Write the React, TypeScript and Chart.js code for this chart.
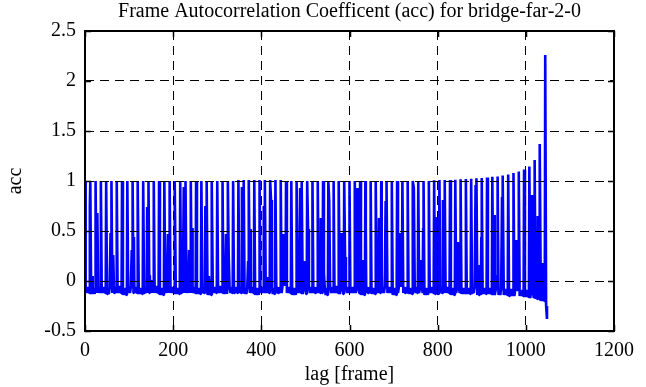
import React, { useEffect, useRef } from "react";
import { Chart, registerables } from "chart.js";

Chart.register(...registerables);

const titleText = "Frame Autocorrelation Coefficent (acc) for bridge-far-2-0";
const xLabel = "lag [frame]";
const yLabel = "acc";

const xTicks = [0, 200, 400, 600, 800, 1000, 1200];
const yTicks = [-0.5, 0, 0.5, 1, 1.5, 2, 2.5];

// spacing (frames) between the main autocorrelation peaks
const period = 12;

// main peak height at lag = k * period
const peaks = [
  1.0, 1.0, 1.0, 1.0, 1.0, 1.0, 1.0, 1.0, 1.0, 1.0,
  1.0, 1.0, 1.0, 1.0, 1.0, 1.0, 1.0, 1.0, 1.0, 1.0,
  1.0, 1.0, 1.0, 1.0, 1.0, 1.0, 1.0, 1.0, 1.0, 1.01,
  1.01, 1.01, 1.01, 1.01, 1.01, 1.01, 1.01, 1.01, 1.0, 1.0,
  1.0, 1.0, 1.0, 1.0, 1.0, 1.0, 1.0, 1.0, 1.0, 1.0,
  1.0, 1.0, 1.0, 1.0, 1.0, 1.0, 1.0, 1.0, 1.0, 1.0,
  1.0, 1.0, 1.0, 1.0, 1.0, 1.0, 1.007, 1.01, 1.01, 1.01,
  1.013, 1.017, 1.02, 1.023, 1.027, 1.03, 1.035, 1.043, 1.045, 1.055,
  1.065, 1.08, 1.095, 1.115, 1.145, 1.21, 1.37, 2.26,
];

// lowest baseline level in each gap after a peak
const troughs = [
  -0.12, -0.13, -0.12, -0.12, -0.13, -0.12, -0.12, -0.14, -0.12, -0.12,
  -0.13, -0.12, -0.12, -0.12, -0.14, -0.12, -0.12, -0.13, -0.12, -0.12,
  -0.12, -0.13, -0.12, -0.14, -0.12, -0.12, -0.13, -0.12, -0.12, -0.12,
  -0.13, -0.12, -0.14, -0.12, -0.12, -0.13, -0.12, -0.12, -0.12, -0.14,
  -0.12, -0.13, -0.12, -0.12, -0.12, -0.14, -0.12, -0.12, -0.13, -0.12,
  -0.12, -0.12, -0.14, -0.12, -0.13, -0.12, -0.12, -0.12, -0.14, -0.12,
  -0.12, -0.13, -0.12, -0.12, -0.14, -0.12, -0.13, -0.12, -0.12, -0.14,
  -0.12, -0.13, -0.13, -0.12, -0.14, -0.13, -0.13, -0.14, -0.14, -0.14,
  -0.15, -0.15, -0.15, -0.16, -0.17, -0.18, -0.2, -0.22,
];

// upper baseline level in each gap after a peak
const crests = [
  -0.06, -0.07, -0.06, -0.06, -0.07, -0.06, -0.05, -0.07, -0.06, -0.06,
  -0.07, -0.06, -0.06, -0.05, -0.07, -0.06, -0.06, -0.07, -0.06, -0.06,
  -0.06, -0.07, -0.06, -0.07, -0.06, -0.05, -0.07, -0.06, -0.06, -0.06,
  -0.07, -0.06, -0.07, -0.06, -0.06, -0.07, -0.06, -0.05, -0.06, -0.07,
  -0.06, -0.07, -0.06, -0.06, -0.06, -0.07, -0.06, -0.05, -0.07, -0.06,
  -0.06, -0.06, -0.07, -0.06, -0.07, -0.06, -0.06, -0.06, -0.07, -0.06,
  -0.06, -0.07, -0.06, -0.06, -0.07, -0.06, -0.07, -0.06, -0.06, -0.07,
  -0.06, -0.07, -0.07, -0.06, -0.07, -0.07, -0.07, -0.08, -0.08, -0.08,
  -0.08, -0.09, -0.09, -0.09, -0.1, -0.1, -0.11, -0.1,
];

// secondary (lower) spikes: [lag, acc]
const sideSpikes: [number, number][] = [
  [1, 0.6], [11, 0.74], [17, 0.05], [28, 0.68], [58, 0.48], [64, 0.26],
  [106, 0.31], [111, 0.44], [141, 0.74], [147, 0.06], [152, 0.01],
  [188, 0.47], [224, 0.94], [236, 0.31], [243, 0.53], [273, 0.75],
  [281, 0.05], [285, 0.02], [320, 0.47], [326, 0.26], [356, 0.94],
  [370, 0.2], [375, 0.52], [405, 0.75], [413, 0.04], [422, 0.81],
  [450, 0.47], [454, 0.31], [488, 0.93], [498, 0.2], [506, 0.52],
  [535, 0.63], [542, 0.08], [554, 0.8], [582, 0.48], [590, 0.24],
  [618, 0.93], [631, 0.21], [637, 0.52], [667, 0.63], [673, 0.08],
  [682, 0.8], [714, 0.48], [718, 0.36], [746, 0.93], [762, 0.21],
  [767, 0.53], [798, 0.64], [803, 0.08], [812, 0.81], [846, 0.39],
  [851, 0.23], [886, 0.96], [895, 0.16], [899, 0.44], [929, 0.66],
  [934, 0.06], [946, 0.84], [978, 0.41], [982, 0.38], [1014, 0.86],
  [1027, 0.65], [1037, 0.18],
];

// values after the last peak
const tail: [number, number][] = [
  [1046, -0.25],
  [1048, -0.38],
];

function buildPoints() {
  const m = new Map<number, number>();
  peaks.forEach((_, k) => {
    const L = k * period;
    if (k < peaks.length - 1) {
      m.set(L + 2, troughs[k]);
      m.set(L + 4, crests[k]);
      m.set(L + 6, troughs[k]);
      m.set(L + 8, crests[k]);
      m.set(L + 10, troughs[k]);
      m.set(L + 11, crests[k]);
    }
  });
  sideSpikes.forEach(([x, y]) => m.set(x, y));
  peaks.forEach((p, k) => m.set(k * period, p));
  tail.forEach(([x, y]) => m.set(x, y));
  return [...m.entries()]
    .sort((a, b) => a[0] - b[0])
    .map(([x, y]) => ({ x, y }));
}

const FONT = "'Liberation Serif', 'DejaVu Serif', serif";
const TICK_SIZE = 20;
const LABEL_SIZE = 20;

const framePlugin = {
  id: "gnuplotFrame",
  afterDraw(chart: any) {
    const { ctx, chartArea } = chart;
    const { left, right, top, bottom } = chartArea;
    const xs = chart.scales.x;
    const ys = chart.scales.y;
    ctx.save();
    ctx.strokeStyle = "#000";
    ctx.lineWidth = 1.5;
    ctx.setLineDash([]);
    ctx.beginPath();
    const tl = 6;
    xTicks.forEach((v) => {
      const px = Math.round(xs.getPixelForValue(v)) + 0.5;
      ctx.moveTo(px, bottom);
      ctx.lineTo(px, bottom - tl);
      ctx.moveTo(px, top);
      ctx.lineTo(px, top + tl);
    });
    yTicks.forEach((v) => {
      const py = Math.round(ys.getPixelForValue(v)) + 0.5;
      ctx.moveTo(left, py);
      ctx.lineTo(left + tl, py);
      ctx.moveTo(right, py);
      ctx.lineTo(right - tl, py);
    });
    ctx.stroke();
    ctx.lineWidth = 2;
    ctx.strokeRect(Math.round(left), Math.round(top), Math.round(right - left), Math.round(bottom - top));

    ctx.fillStyle = "#000";
    ctx.font = `${LABEL_SIZE}px ${FONT}`;
    ctx.textAlign = "center";
    ctx.textBaseline = "middle";
    const cx = (left + right) / 2;
    ctx.fillText(titleText, cx, 12);
    ctx.fillText(xLabel, cx, 375);
    ctx.translate(16, (top + bottom) / 2);
    ctx.rotate(-Math.PI / 2);
    ctx.fillText(yLabel, 0, 0);
    ctx.restore();
  },
};

export default function App() {
  const ref = useRef<HTMLCanvasElement | null>(null);
  useEffect(() => {
    document.body.style.margin = "0";
    const canvas = ref.current;
    if (!canvas) return;
    const chart = new Chart(canvas, {
      type: "line",
      data: {
        datasets: [
          {
            data: buildPoints(),
            borderColor: "#0000ff",
            borderWidth: 2.6,
            borderJoinStyle: "bevel",
            pointRadius: 0,
            tension: 0,
            fill: false,
          },
        ],
      },
      options: {
        animation: false,
        responsive: false,
        events: [],
        layout: { padding: { left: 0, right: 32, top: 31, bottom: 0 } },
        plugins: {
          legend: { display: false },
          tooltip: { enabled: false },
          title: { display: false },
        },
        scales: {
          x: {
            type: "linear",
            min: 0,
            max: 1200,
            afterBuildTicks: (s: any) => {
              s.ticks = xTicks.map((v) => ({ value: v }));
            },
            afterFit: (s: any) => {
              s.height = 56;
            },
            grid: { color: "#000", lineWidth: 1, drawTicks: false, z: 1 },
            border: { display: false, dash: [9, 6] },
            ticks: {
              color: "#000",
              font: { family: FONT, size: TICK_SIZE },
              padding: 8,
              maxRotation: 0,
              autoSkip: false,
              callback: (v: any) => String(v),
            },
          },
          y: {
            type: "linear",
            min: -0.5,
            max: 2.5,
            afterBuildTicks: (s: any) => {
              s.ticks = yTicks.map((v) => ({ value: v }));
            },
            afterFit: (s: any) => {
              s.width = 85;
            },
            grid: { color: "#000", lineWidth: 1, drawTicks: false, z: 1 },
            border: { display: false, dash: [9, 6] },
            ticks: {
              color: "#000",
              font: { family: FONT, size: TICK_SIZE },
              padding: 9,
              autoSkip: false,
              callback: (v: any) => String(v),
            },
          },
        },
      },
      plugins: [framePlugin],
    });
    return () => chart.destroy();
  }, []);
  return (
    <div style={{ position: "fixed", left: 0, top: 0, width: 646, height: 387, background: "#fff" }}>
      <canvas ref={ref} width={646} height={387} style={{ display: "block" }} />
    </div>
  );
}
